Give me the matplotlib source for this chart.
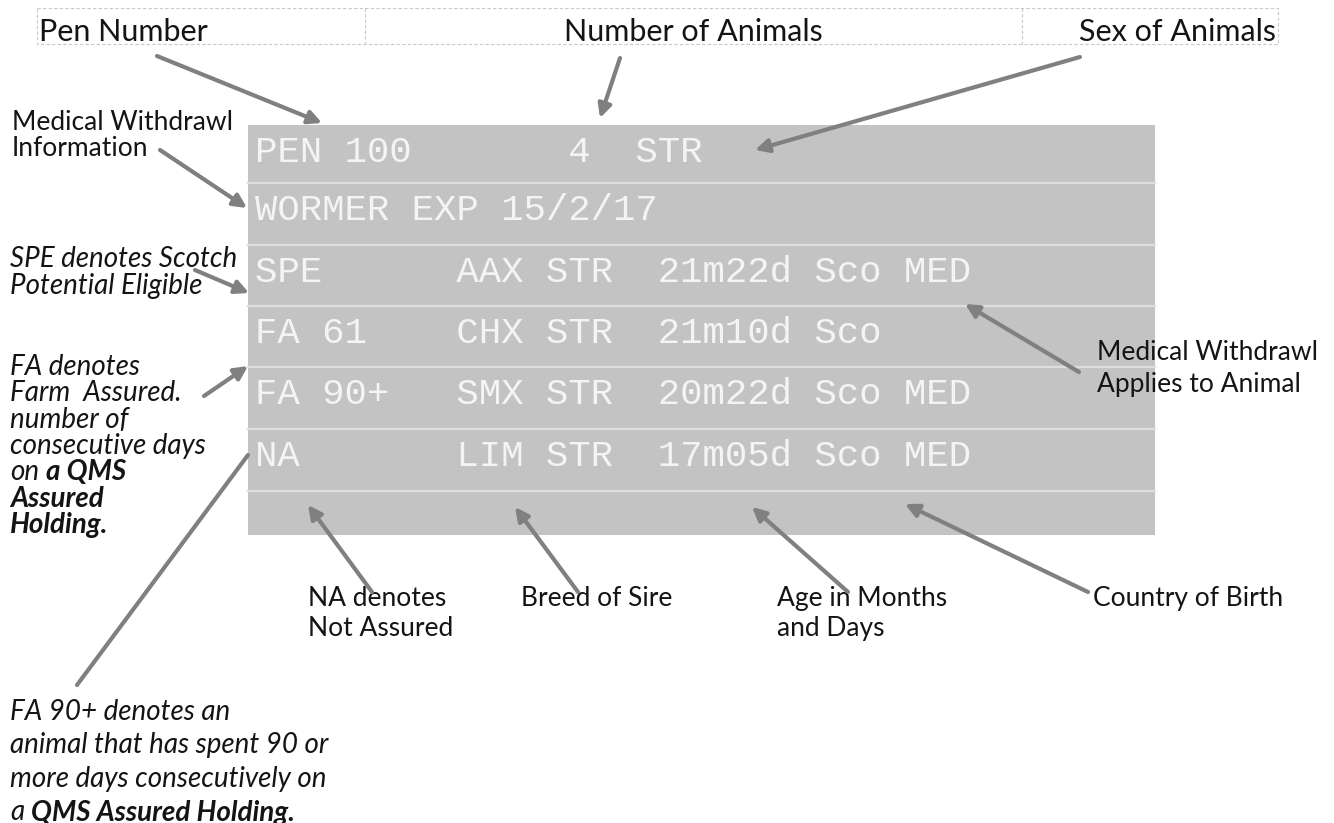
"""
Pen card annotation diagram
"""

import matplotlib.pyplot as plt
from matplotlib.patches import Rectangle

W, H = 1334, 823

# screen rows of the pen card (monospace, spaces keep the columns)
card_rows = [
    "PEN 100       4  STR",
    "WORMER EXP 15/2/17",
    "SPE      AAX STR  21m22d Sco MED",
    "FA 61    CHX STR  21m10d Sco",
    "FA 90+   SMX STR  20m22d Sco MED",
    "NA       LIM STR  17m05d Sco MED",
    "",
]

header_labels = ["Pen Number", "Number of Animals", "Sex of Animals"]

# plain side labels
side_labels = [
    ["Medical Withdrawl", "Information"],
    ["Medical Withdrawl", "Applies to Animal"],
    ["NA denotes", "Not Assured"],
    ["Breed of Sire"],
    ["Age in Months", "and Days"],
    ["Country of Birth"],
]

# italic notes, runs of (text, weight)
spe_note = [
    [("SPE denotes Scotch", "normal")],
    [("Potential Eligible", "normal")],
]
fa_note = [
    [("FA denotes", "normal")],
    [("Farm  Assured.", "normal")],
    [("number of", "normal")],
    [("consecutive days", "normal")],
    [("on", "normal"), ("a QMS", "bold")],
    [("Assured", "bold")],
    [("Holding.", "bold")],
]
fa90_note = [
    [("FA 90+ denotes an", "normal")],
    [("animal that has spent 90 or", "normal")],
    [("more days consecutively on", "normal")],
    [("a", "normal"), ("QMS Assured Holding.", "bold")],
]

GREY = "#808080"
PANEL = "#c3c3c3"
INK = "#141414"
FONT = "Lato"
FS = 19        # plain labels
FS_HEAD = 22   # header strip
FS_NOTE = 20   # italic notes

fig = plt.figure(figsize=(W / 100, H / 100), dpi=100)
ax = fig.add_axes([0, 0, 1, 1])
ax.set_xlim(0, W)
ax.set_ylim(H, 0)
ax.axis("off")
rend = fig.canvas.get_renderer()

# header strip with dashed cells
hx = [37, 365, 1022, 1278]
hy0, hy1 = 8, 44
ax.add_patch(Rectangle((hx[0], hy0), hx[-1] - hx[0], hy1 - hy0, fill=False,
                       ec="#c8c8c8", lw=0.8, ls=(0, (3, 2))))
for xv in hx[1:-1]:
    ax.plot([xv, xv], [hy0, hy1], color="#c8c8c8", lw=0.8, ls=(0, (3, 2)))
ax.text(39, 41, header_labels[0], fontsize=FS_HEAD, family=FONT, va="baseline", ha="left", color=INK)
ax.text(693, 41, header_labels[1], fontsize=FS_HEAD, family=FONT, va="baseline", ha="center", color=INK)
ax.text(1276, 41, header_labels[2], fontsize=FS_HEAD, family=FONT, va="baseline", ha="right", color=INK)

# the grey card
px0, px1, py0, py1 = 248, 1155, 125, 535
ax.add_patch(Rectangle((px0, py0), px1 - px0, py1 - py0, color=PANEL, lw=0))
row_edges = [125, 183, 245, 306, 367, 429, 491]
for yv in row_edges[1:]:
    ax.plot([px0, px1], [yv, yv], color="#dedede", lw=1.6)
for i, row in enumerate(card_rows):
    ax.text(255, row_edges[i] + 37, row, fontsize=26.9, family="Liberation Mono",
            va="baseline", ha="left", color="#f4f4f4")

# plain labels
side_pos = [(12, 130, 26), (1097, 360, 32), (308, 606, 30),
            (521, 606, 30), (777, 606, 30), (1093, 606, 30)]
for lines, (x, y, dy) in zip(side_labels, side_pos):
    for k, s in enumerate(lines):
        ax.text(x, y + k * dy, s, fontsize=FS, family=FONT, va="baseline", ha="left", color=INK)


def note(x, y, dy, lines):
    for k, runs in enumerate(lines):
        cx = x
        for s, w in runs:
            t = ax.text(cx, y + k * dy, s, fontsize=FS_NOTE, family=FONT, style="italic",
                        weight=w, va="baseline", ha="left", color=INK)
            cx += t.get_window_extent(renderer=rend).width + 7


note(10, 267, 27, spe_note)
note(10, 375, 26.3, fa_note)
note(10, 720, 33.5, fa90_note)

# arrows: (start, tip, head)
arrows = [
    ((157, 56), (322, 123), True),
    ((620, 58), (600, 118), True),
    ((1080, 57), (755, 150), True),
    ((160, 150), (247, 208), True),
    ((195, 270), (249, 293), True),
    ((204, 396), (248, 366), True),
    ((77, 685), (248, 455), False),
    ((1079, 372), (965, 304), True),
    ((372, 592), (308, 505), True),
    ((578, 592), (515, 507), True),
    ((848, 592), (752, 507), True),
    ((1088, 592), (905, 504), True),
]
for (sx, sy), (tx, ty), head in arrows:
    ax.annotate("", xy=(tx, ty), xytext=(sx, sy),
                arrowprops=dict(arrowstyle="-|>" if head else "-", color=GREY, lw=3,
                                mutation_scale=20, shrinkA=0, shrinkB=0))

fig.savefig("out.png", dpi=100)
